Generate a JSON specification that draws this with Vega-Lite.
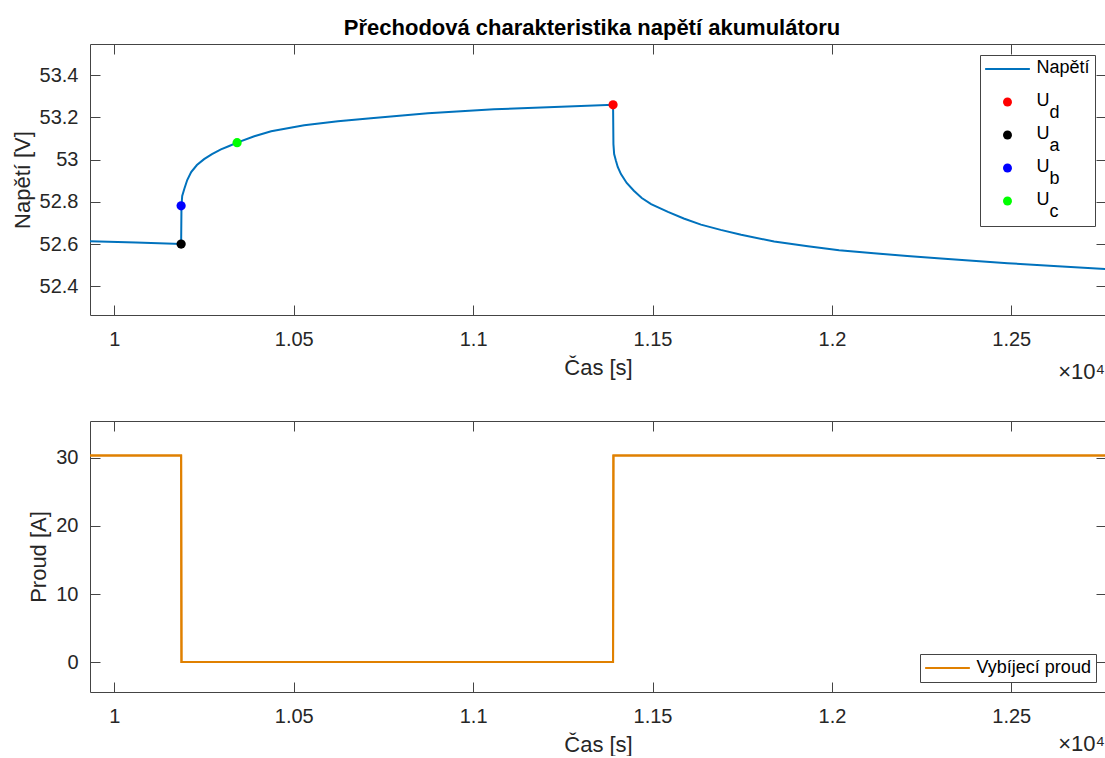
{
  "$schema": "https://vega.github.io/schema/vega-lite/v6.json",
  "background": "white",
  "padding": {"left": 10, "top": 16, "right": 0, "bottom": 0},
  "spacing": 36,
  "datasets": {
    "napeti": [
      {"t": 9932, "v": 52.613},
      {"t": 10060, "v": 52.607},
      {"t": 10186, "v": 52.600},
      {"t": 10187, "v": 52.781},
      {"t": 10189, "v": 52.828},
      {"t": 10195, "v": 52.862},
      {"t": 10203, "v": 52.903},
      {"t": 10214, "v": 52.941},
      {"t": 10230, "v": 52.974},
      {"t": 10250, "v": 53.002},
      {"t": 10272, "v": 53.026},
      {"t": 10297, "v": 53.048},
      {"t": 10320, "v": 53.064},
      {"t": 10342, "v": 53.080},
      {"t": 10390, "v": 53.110},
      {"t": 10437, "v": 53.134},
      {"t": 10529, "v": 53.162},
      {"t": 10623, "v": 53.181},
      {"t": 10715, "v": 53.196},
      {"t": 10874, "v": 53.219},
      {"t": 11058, "v": 53.238},
      {"t": 11245, "v": 53.250},
      {"t": 11390, "v": 53.259},
      {"t": 11391, "v": 53.073},
      {"t": 11393, "v": 53.026},
      {"t": 11398, "v": 52.994},
      {"t": 11403, "v": 52.965},
      {"t": 11412, "v": 52.931},
      {"t": 11428, "v": 52.889},
      {"t": 11448, "v": 52.852},
      {"t": 11470, "v": 52.818},
      {"t": 11496, "v": 52.789},
      {"t": 11543, "v": 52.752},
      {"t": 11587, "v": 52.721},
      {"t": 11635, "v": 52.692},
      {"t": 11690, "v": 52.667},
      {"t": 11747, "v": 52.644},
      {"t": 11839, "v": 52.612},
      {"t": 11933, "v": 52.589},
      {"t": 12020, "v": 52.571},
      {"t": 12117, "v": 52.556},
      {"t": 12210, "v": 52.543},
      {"t": 12304, "v": 52.531},
      {"t": 12490, "v": 52.509},
      {"t": 12630, "v": 52.495},
      {"t": 12764, "v": 52.482}
    ],
    "body": [
      {"t": 11390, "v": 53.259, "series": "Ud"},
      {"t": 10186, "v": 52.600, "series": "Ua"},
      {"t": 10186, "v": 52.781, "series": "Ub"},
      {"t": 10342, "v": 53.080, "series": "Uc"}
    ],
    "proud": [
      {"t": 9932, "i": 30.35},
      {"t": 10186, "i": 30.35},
      {"t": 10187, "i": 0},
      {"t": 11390, "i": 0},
      {"t": 11391, "i": 30.35},
      {"t": 12764, "i": 30.35}
    ]
  },
  "vconcat": [
    {
      "width": 1016,
      "height": 271,
      "title": {
        "text": "Přechodová charakteristika napětí akumulátoru",
        "font": "Liberation Sans",
        "fontSize": 22,
        "fontWeight": "bold",
        "color": "#000000",
        "anchor": "middle",
        "frame": "group",
        "baseline": "alphabetic",
        "offset": -13,
        "dx": -6
      },
      "layer": [
        {
          "data": {"name": "napeti"},
          "mark": {"type": "line", "color": "#0072BD", "strokeWidth": 2},
          "encoding": {
            "x": {
              "field": "t", "type": "quantitative", "title": "Čas [s]",
              "scale": {"domain": [9932, 12764], "nice": false, "zero": false},
              "axis": {"orient": "bottom", "values": [10000, 10500, 11000, 11500, 12000, 12500], "labelExpr": "format(datum.value / 10000, '~g')"}
            },
            "y": {
              "field": "v", "type": "quantitative", "title": "Napětí [V]",
              "scale": {"domain": [52.264, 53.547], "nice": false, "zero": false},
              "axis": {"orient": "left", "values": [52.4, 52.6, 52.8, 53, 53.2, 53.4], "format": "~g"}
            }
          }
        },
        {
          "data": {"name": "body"},
          "mark": {"type": "point", "filled": true, "size": 85, "opacity": 1},
          "encoding": {
            "x": {
              "field": "t", "type": "quantitative", "title": null,
              "axis": {"orient": "top", "labels": false, "values": [10000, 10500, 11000, 11500, 12000, 12500]}
            },
            "y": {
              "field": "v", "type": "quantitative", "title": null,
              "axis": {"orient": "right", "labels": false, "values": [52.4, 52.6, 52.8, 53, 53.2, 53.4]}
            },
            "color": {
              "field": "series", "type": "nominal",
              "scale": {"domain": ["Napětí", "Ud", "Ua", "Ub", "Uc"], "range": ["#0072BD", "#FF0000", "#000000", "#0000FF", "#00FF00"]},
              "legend": {
                "title": null,
                "orient": "top-right",
                "offset": 11,
                "labelExpr": "datum.label == 'Napětí' ? ['Napětí', '\u2800'] : ['U', '\u2800' + substring(datum.label, 1)]",
                "encode": {
                  "symbols": {"update": {"stroke": {"signal": "datum.value == 'Napětí' ? '#0072BD' : 'transparent'"}, "strokeWidth": {"value": 2}}},
                  "labels": {"update": {"lineHeight": {"value": 12}, "dy": {"value": -1}}}
                }
              }
            },
            "shape": {
              "field": "series", "type": "nominal",
              "scale": {"domain": ["Napětí", "Ud", "Ua", "Ub", "Uc"], "range": ["M-5,0H5", "circle", "circle", "circle", "circle"]},
              "legend": {"title": null}
            }
          }
        },
        {
          "data": {"values": [{}]},
          "mark": {"type": "text", "text": "×10⁴", "align": "right", "baseline": "middle", "dy": 57, "dx": -1, "font": "Liberation Sans", "fontSize": 22, "color": "#262626"},
          "encoding": {
            "x": {"datum": 12764, "type": "quantitative", "axis": null},
            "y": {"datum": 52.264, "type": "quantitative", "axis": null}
          }
        }
      ]
    },
    {
      "width": 1016,
      "height": 271,
      "layer": [
        {
          "data": {"name": "proud"},
          "mark": {"type": "line", "strokeWidth": 2},
          "encoding": {
            "x": {
              "field": "t", "type": "quantitative", "title": "Čas [s]",
              "scale": {"domain": [9932, 12764], "nice": false, "zero": false},
              "axis": {"orient": "bottom", "values": [10000, 10500, 11000, 11500, 12000, 12500], "labelExpr": "format(datum.value / 10000, '~g')"}
            },
            "y": {
              "field": "i", "type": "quantitative", "title": "Proud [A]",
              "scale": {"domain": [-4.41, 35.44], "nice": false, "zero": false},
              "axis": {"orient": "left", "values": [0, 10, 20, 30]}
            },
            "color": {
              "datum": "Vybíjecí proud", "type": "nominal",
              "scale": {"range": ["#E08000"]},
              "legend": {"title": null, "orient": "bottom-right", "offset": 10, "symbolType": "M-5,0H5", "symbolStrokeWidth": 2}
            }
          }
        },
        {
          "data": {"name": "proud"},
          "mark": {"type": "line", "strokeWidth": 2, "color": "#E08000"},
          "encoding": {
            "x": {
              "field": "t", "type": "quantitative", "title": null,
              "axis": {"orient": "top", "labels": false, "values": [10000, 10500, 11000, 11500, 12000, 12500]}
            },
            "y": {
              "field": "i", "type": "quantitative", "title": null,
              "axis": {"orient": "right", "labels": false, "values": [0, 10, 20, 30]}
            }
          }
        },
        {
          "data": {"values": [{}]},
          "mark": {"type": "text", "text": "×10⁴", "align": "right", "baseline": "middle", "dy": 52, "dx": -1, "font": "Liberation Sans", "fontSize": 22, "color": "#262626"},
          "encoding": {
            "x": {"datum": 12764, "type": "quantitative", "axis": null},
            "y": {"datum": -4.41, "type": "quantitative", "axis": null}
          }
        }
      ]
    }
  ],
  "resolve": {
    "scale": {"color": "independent", "shape": "independent", "x": "independent", "y": "independent"},
    "legend": {"color": "independent", "shape": "independent"}
  },
  "config": {
    "view": {"stroke": "#444444", "strokeWidth": 1},
    "axis": {
      "domain": false,
      "grid": false,
      "tickColor": "#444444",
      "tickSize": -10,
      "tickWidth": 1,
      "labelColor": "#262626",
      "labelFont": "Liberation Sans",
      "labelFontSize": 20,
      "labelFlush": false,
      "labelOverlap": false,
      "titleFont": "Liberation Sans",
      "titleFontSize": 22,
      "titleFontWeight": "normal",
      "titleColor": "#262626",
      "titlePadding": 8
    },
    "axisX": {"labelPadding": 24},
    "axisY": {"labelPadding": 22, "titlePadding": 5},
    "legend": {
      "labelFont": "Liberation Sans",
      "labelFontSize": 18,
      "labelColor": "#000000",
      "strokeColor": "#444444",
      "fillColor": "#ffffff",
      "padding": 5,
      "symbolSize": 80,
      "symbolOpacity": 1,
      "symbolOffset": 13.5,
      "labelOffset": 20,
      "rowPadding": 3,
      "cornerRadius": 0
    }
  }
}
